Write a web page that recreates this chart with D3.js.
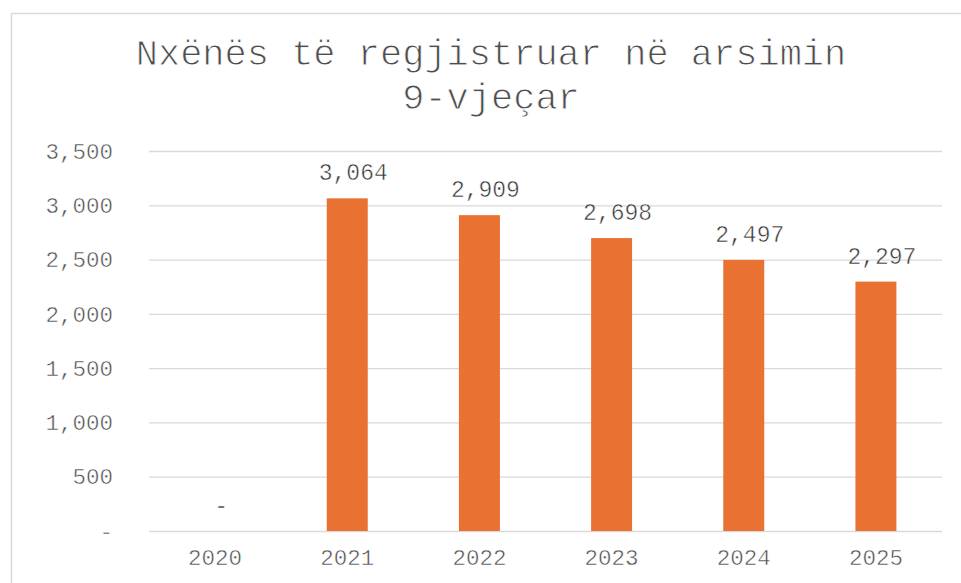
<!DOCTYPE html>
<html>
<head>
<meta charset="utf-8">
<script src="https://cdn.jsdelivr.net/npm/d3@7"></script>
<style>
  body { margin: 0; background: #fff; }
  text { font-family: "Liberation Mono", "Courier New", monospace; }
  /* Courier New is lighter than Liberation Mono: erode glyph edges a little */
  .thin { stroke: #fff; stroke-width: 0.5px; }
</style>
</head>
<body>
<svg id="chart" width="961" height="583"></svg>
<script>
// chart data
const years = ['2020', '2021', '2022', '2023', '2024', '2025'];
const students = [0, 3064, 2909, 2698, 2497, 2297];
const yTicks = [0, 500, 1000, 1500, 2000, 2500, 3000, 3500];
const titleLines = ['Nxënës të regjistruar në arsimin', '9-vjeçar'];

const width = 961, height = 583;
const margin = { left: 149, right: 19, top: 151, bottom: 52 };

const svg = d3.select('#chart');

// outer chart border (right/bottom edges fall outside the picture)
svg.append('rect')
    .attr('x', 11.5)
    .attr('y', 13.5)
    .attr('width', 980)
    .attr('height', 600)
    .attr('fill', 'none')
    .attr('stroke', '#d9d9d9')
    .attr('stroke-width', 1.5);

const x = d3.scaleBand()
    .domain(years)
    .range([margin.left, width - margin.right])
    .paddingInner(0.69)
    .paddingOuter(0.345);

const y = d3.scaleLinear()
    .domain([0, 3500])
    .range([height - margin.bottom, margin.top]);

// Excel accounting style: zero shown as a dash
const fmt = v => v === 0 ? '-' : d3.format(',')(v);

// gridlines + y labels
const yAxis = svg.append('g')
    .attr('transform', `translate(${margin.left},0)`)
    .call(d3.axisLeft(y)
        .tickValues(yTicks)
        .tickSize(-(width - margin.left - margin.right))
        .tickPadding(36)
        .tickFormat(fmt));
yAxis.select('.domain').remove();
yAxis.selectAll('.tick line')
    .attr('stroke', '#d9d9d9')
    .attr('stroke-width', 1.3);
yAxis.selectAll('.tick text')
    .attr('class', 'thin')
    .attr('fill', '#4d4d4d')
    .attr('font-size', 22.5)
    .attr('dy', '0.32em');

// bars
svg.append('g')
    .selectAll('rect')
    .data(years)
    .join('rect')
    .attr('x', d => x(d))
    .attr('width', x.bandwidth())
    .attr('y', (d, i) => y(students[i]))
    .attr('height', (d, i) => y(0) - y(students[i]))
    .attr('fill', '#e97132');

// data labels (accounting format pads them a bit to the right)
svg.append('g')
    .selectAll('text')
    .data(years)
    .join('text')
    .attr('class', 'thin')
    .attr('x', d => x(d) + x.bandwidth() / 2 + 6)
    .attr('y', (d, i) => y(students[i]) - 18)
    .attr('text-anchor', 'middle')
    .attr('fill', '#333')
    .attr('font-size', 23)
    .text((d, i) => fmt(students[i]));

// x axis labels
const xAxis = svg.append('g')
    .attr('transform', `translate(0,${height - margin.bottom})`)
    .call(d3.axisBottom(x).tickSize(0).tickPadding(18));
xAxis.select('.domain').remove();
xAxis.selectAll('.tick text')
    .attr('class', 'thin')
    .attr('fill', '#4d4d4d')
    .attr('font-size', 22.5)
    .attr('dy', '0.71em');

// title
svg.append('text')
    .attr('class', 'thin')
    .attr('x', 491)
    .attr('y', 65)
    .attr('text-anchor', 'middle')
    .attr('fill', '#4d4d4d')
    .attr('font-size', 37)
    .style('stroke-width', '0.9px')
    .selectAll('tspan')
    .data(titleLines)
    .join('tspan')
    .attr('x', 491)
    .attr('dy', (d, i) => i === 0 ? 0 : 44)
    .text(d => d);
</script>
</body>
</html>
